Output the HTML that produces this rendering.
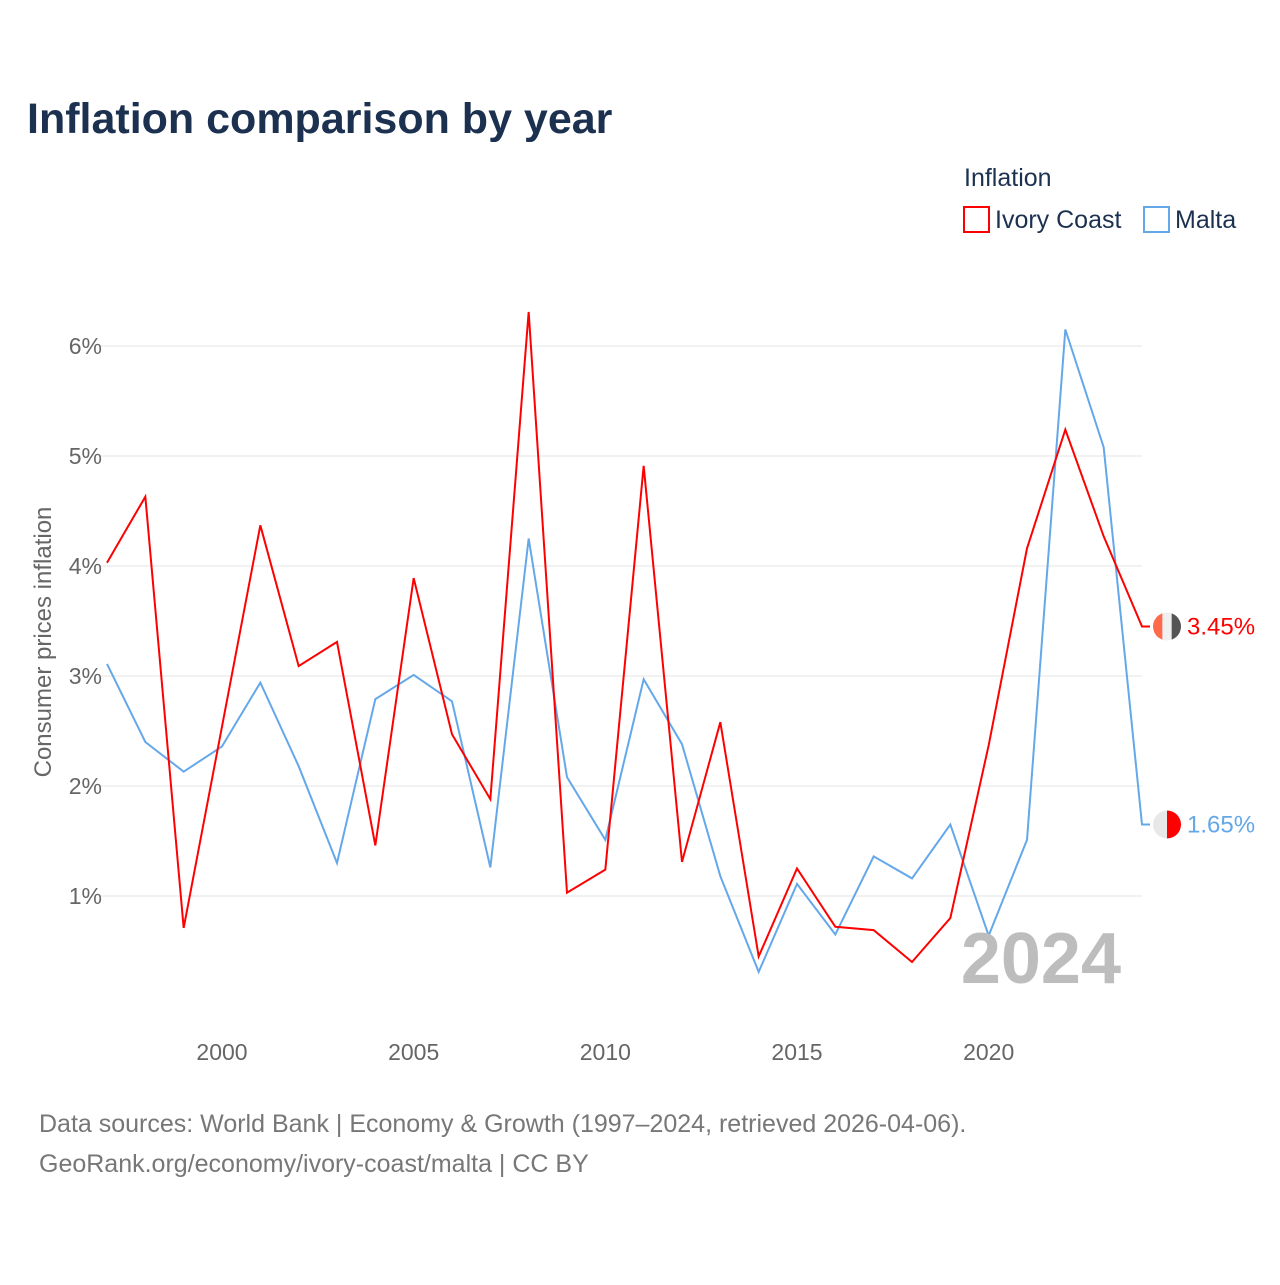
<!DOCTYPE html>
<html><head><meta charset="utf-8"><style>
body{margin:0;background:#fff;font-family:"Liberation Sans",sans-serif}
</style></head><body>
<svg id="c" width="1280" height="1280" xmlns="http://www.w3.org/2000/svg" style="font-family:'Liberation Sans',sans-serif">
<rect width="1280" height="1280" fill="#fff"/>
<text x="27" y="133" font-size="43" font-weight="bold" fill="#1c3150">Inflation comparison by year</text>
<text x="964" y="186" font-size="25" fill="#1c3150">Inflation</text>
<g><rect x="964" y="207" width="25" height="25" fill="none" stroke="#ff0000" stroke-width="2"/><text x="995" y="228" font-size="25" fill="#1c3150">Ivory Coast</text></g>
<g><rect x="1144" y="207" width="25" height="25" fill="none" stroke="#64a8ea" stroke-width="2"/><text x="1175" y="228" font-size="25" fill="#1c3150">Malta</text></g>
<g id="grid"></g><g id="axes"></g><g id="lines"></g>
<text x="1121" y="983" font-size="72" font-weight="bold" fill="#bdbdbd" text-anchor="end">2024</text>
<text transform="translate(51,642) rotate(-90)" font-size="24" fill="#666" text-anchor="middle">Consumer prices inflation</text>
<text x="39" y="1132" font-size="25" fill="#777">Data sources: World Bank | Economy &amp; Growth (1997–2024, retrieved 2026-04-06).</text>
<text x="39" y="1172" font-size="25" fill="#777">GeoRank.org/economy/ivory-coast/malta | CC BY</text>
</svg>
<script>
const years=[1997,1998,1999,2000,2001,2002,2003,2004,2005,2006,2007,2008,2009,2010,2011,2012,2013,2014,2015,2016,2017,2018,2019,2020,2021,2022,2023,2024];
const ivoryCoast=[4.03,4.63,0.71,2.54,4.37,3.09,3.31,1.46,3.89,2.47,1.88,6.31,1.03,1.24,4.91,1.31,2.58,0.45,1.25,0.72,0.69,0.40,0.80,2.37,4.16,5.24,4.27,3.45];
const malta=[3.11,2.40,2.13,2.36,2.94,2.18,1.30,2.79,3.01,2.77,1.26,4.25,2.08,1.51,2.97,2.38,1.18,0.31,1.11,0.65,1.36,1.16,1.65,0.64,1.51,6.15,5.08,1.65];
const yTicks=[1,2,3,4,5,6];
const xTicks=[2000,2005,2010,2015,2020];
const NS="http://www.w3.org/2000/svg";
const X=y=>107+(y-1997)*(1142-107)/27;
const Y=v=>1006-v*110;
function mk(t,a,p){const e=document.createElementNS(NS,t);for(const k in a)e.setAttribute(k,a[k]);p.appendChild(e);return e;}
const grid=document.getElementById('grid'),axes=document.getElementById('axes'),lines=document.getElementById('lines');
yTicks.forEach(v=>{
 const l=mk('line',{x1:100,x2:1142,y1:Y(v),y2:Y(v),stroke:'#e6e6e6','stroke-width':1},grid);
 
 
 const t=mk('text',{x:102,y:Y(v)+8,'font-size':23,fill:'#666','text-anchor':'end'},axes);t.textContent=v+'%';
 
 
});
xTicks.forEach(y=>{
 const t=mk('text',{x:X(y),y:1060,'font-size':23,fill:'#666','text-anchor':'middle'},axes);t.textContent=y;
 
 
});
function series(vals,color,name,flag){
 const pts=vals.map((v,i)=>X(years[i])+','+Y(v));
 const last=vals[vals.length-1];
 pts.push('1150,'+Y(last));
 const p=mk('polyline',{points:pts.join(' '),fill:'none',stroke:color,'stroke-width':2,'stroke-linejoin':'miter'},lines);
 
 
 const g=mk('g',{},lines);
 
 
 const cy=Y(last),cx=1167;
 mk('clipPath',{id:'cl'+name},g).appendChild(document.createElementNS(NS,'circle'));
 const cc=g.querySelector('clipPath circle');cc.setAttribute('cx',cx);cc.setAttribute('cy',cy);cc.setAttribute('r',14);
 flag.forEach((c,i)=>mk('rect',{x:cx-14+i*28/flag.length,y:cy-14,width:28/flag.length+0.5,height:28,fill:c,'clip-path':'url(#cl'+name+')'},g));
 const t=mk('text',{x:1187,y:cy+8,'font-size':24,fill:color},lines);t.textContent=last.toFixed(2)+'%';
 
 
}
series(malta,'#64a8ea','malta',['#e8e8e8','#ff0000']);
series(ivoryCoast,'#ff0000','ivory-coast',['#ff6a4d','#f0f0f0','#555']);
</script>
</body></html>
